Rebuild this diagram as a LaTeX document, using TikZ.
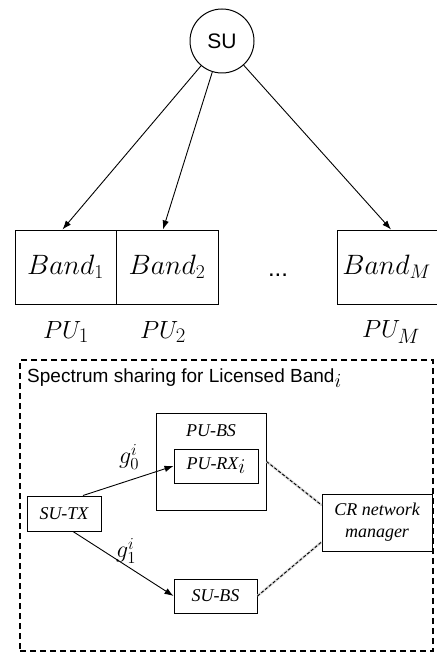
\RequirePackage{fix-cm}
\documentclass[tikz,border=0pt]{standalone}
\usepackage{fontspec}
\setmainfont{Liberation Serif}
\newfontfamily\arialf{Liberation Sans}
\usetikzlibrary{arrows.meta}
\begin{document}
\begin{tikzpicture}[x=1pt,y=-1pt,
  box/.style={draw, line width=1pt, rectangle, inner sep=0pt, align=center},
  band/.style={box, minimum height=74pt, font=\fontsize{28}{32}\selectfont},
  mathlab/.style={font=\fontsize{24.88}{28}\selectfont, inner sep=0pt},
  glab/.style={font=\fontsize{24}{28}\selectfont, inner sep=0pt},
  lab/.style={font=\itshape\fontsize{18}{21}\selectfont},
  arr/.style={-{Latex[length=9pt,width=6.5pt]}, line width=0.9pt},
  link/.style={dash pattern=on 3pt off 2pt, line width=0.9pt,
    preaction={draw=black!15, line width=2.5pt, solid}}
]
\fill[white] (0,0) rectangle (436,652);
\useasboundingbox (0,0) rectangle (436,652);

% top part
\node[draw, circle, line width=1pt, minimum size=64pt, inner sep=0pt,
      font=\arialf\fontsize{21}{24}\selectfont] (su) at (222,41) {SU};
\node[band, minimum width=101pt] (b1) at (65.5,267) {$Band_1$};
\node[band, minimum width=102pt] (b2) at (167,267) {$Band_2$};
\node[band, minimum width=104pt] (bm) at (389,267) {\hspace*{-5pt}$Band_M$};
\node[font=\arialf\fontsize{24}{28}\selectfont, inner sep=0pt] (dots) at (278,275) {...};
\node[mathlab] (pu1) at (66,332) {$PU_1$};
\node[mathlab] (pu2) at (163,332) {$PU_2$};
\node[mathlab] (pum) at (391,332) {$PU_M$};

\draw[arr] (su) -- ([xshift=-3pt]b1.north);
\draw[arr] (su) -- ([xshift=-4pt]b2.north);
\draw[arr] (su) -- ([xshift=2pt]bm.north);

% bottom part
\node[draw, dash pattern=on 6pt off 4pt, line width=1.2pt, minimum width=413pt,
      minimum height=291pt, inner sep=0pt] (frame) at (226.5,505.5) {};
\node[anchor=west, font=\arialf\fontsize{19}{22}\selectfont, inner sep=0pt]
      (title) at (27,378) {Spectrum sharing for Licensed Band\raisebox{-5pt}{\fontsize{20}{20}\selectfont$i$}};

\node[box, minimum width=110pt, minimum height=97pt] (pubs) at (211,461.5) {};
\node[lab] (pubslab) at (211,431) {PU-BS};
\node[box, lab, minimum width=84pt, minimum height=34pt] (purx) at (216,466) {PU-RX\raisebox{-4pt}{\fontsize{21}{21}\selectfont$i$}};
\node[box, lab, minimum width=74pt, minimum height=35pt] (sutx) at (64,513.5) {SU-TX};
\node[box, lab, minimum width=83pt, minimum height=34pt] (subs) at (215.5,596) {SU-BS};
\node[box, lab, minimum width=110pt, minimum height=57pt, font=\itshape\fontsize{18}{22}\selectfont] (cr) at (377,522.5) {CR network\\manager};

\draw[arr] ([xshift=19pt]sutx.north) -- (purx.west);
\draw[arr] ([xshift=9pt]sutx.south) -- (subs.west);
\node[glab] (g0) at (129,457) {$g_0^i$};
\node[glab] (g1) at (126,551) {$g_1^i$};

\draw[link] (pubs.east) -- ([yshift=17.5pt]cr.west);
\draw[link] (subs.east) -- ([yshift=-19.5pt]cr.west);
\end{tikzpicture}
\end{document}
